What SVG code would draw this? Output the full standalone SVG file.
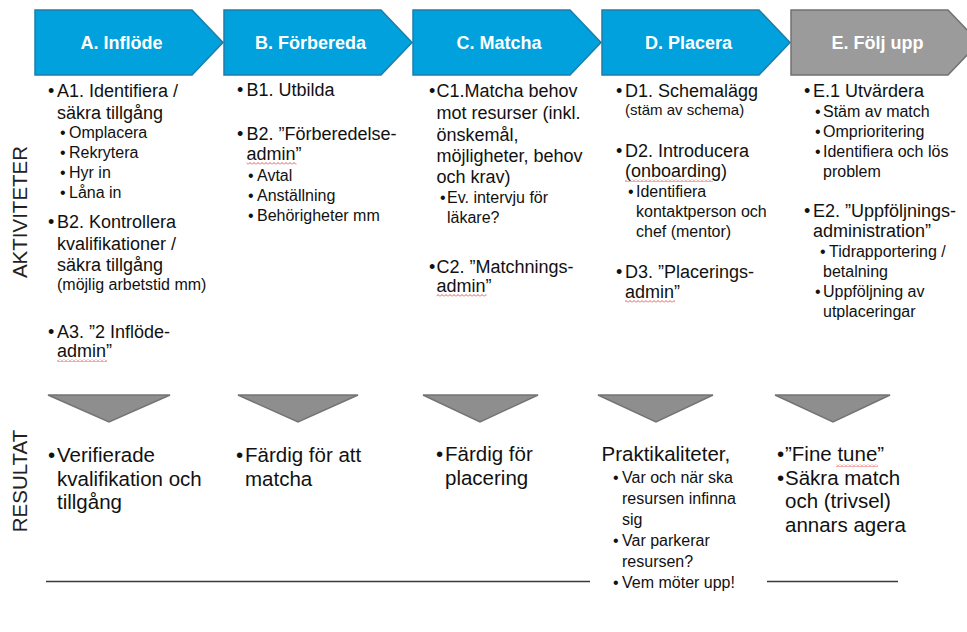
<svg xmlns="http://www.w3.org/2000/svg" width="967" height="632" viewBox="0 0 967 632">
<defs>
<style>
text{font-family:"Liberation Sans",Arial,sans-serif;fill:#111}
.hd{font-size:18px;font-weight:bold;fill:#fff;text-anchor:middle}
.m{font-size:18px}
.s{font-size:16px}
.xs{font-size:15px}
.r{font-size:20.5px}
.lbl{font-size:20.5px;fill:#222;text-anchor:middle}
.chb{fill:#00A1DD;stroke:#1C7EA9;stroke-width:1.5}
.chg{fill:#9B9B9B;stroke:#727272;stroke-width:1.5}
.tri{fill:#8E8E8E;stroke:#747474;stroke-width:1.5}
.ln{stroke:#3a3a3a;stroke-width:1.5}
</style>
<pattern id="sq" width="4" height="3" patternUnits="userSpaceOnUse">
<path d="M0,2.5 L2,0.5 L4,2.5" fill="none" stroke="#E03030" stroke-width="0.8"/>
</pattern>
</defs>
<rect width="967" height="632" fill="#fff"/>

<text class="lbl" transform="translate(27,212) rotate(-90)">AKTIVITETER</text>
<text class="lbl" transform="translate(27,481) rotate(-90)">RESULTAT</text>

<g id="step-a">
<polygon class="chb" points="35,10 192,10 223,42.5 192,75 35,75"/>
<text class="hd" x="121.5" y="49">A. Inflöde</text>
</g>
<g id="step-b">
<polygon class="chb" points="224,10 381,10 412,42.5 381,75 224,75"/>
<text class="hd" x="310.5" y="49">B. Förbereda</text>
</g>
<g id="step-c">
<polygon class="chb" points="413,10 570,10 601,42.5 570,75 413,75"/>
<text class="hd" x="499" y="49">C. Matcha</text>
</g>
<g id="step-d">
<polygon class="chb" points="602,10 759,10 790,42.5 759,75 602,75"/>
<text class="hd" x="688.5" y="49">D. Placera</text>
</g>
<g id="step-e">
<polygon class="chg" points="791,10 948,10 979,42.5 948,75 791,75"/>
<text class="hd" x="877.5" y="49">E. Följ upp</text>
</g>

<g id="act-a">
<text class="m" x="48" y="97">•</text>
<text class="m" x="57" y="97">A1. Identifiera /</text>
<text class="m" x="57" y="119">säkra tillgång</text>
<text class="s" x="60" y="138">•</text><text class="s" x="69" y="138">Omplacera</text>
<text class="s" x="60" y="158">•</text><text class="s" x="69" y="158">Rekrytera</text>
<text class="s" x="60" y="178">•</text><text class="s" x="69" y="178">Hyr in</text>
<text class="s" x="60" y="198">•</text><text class="s" x="69" y="198">Låna in</text>
<text class="m" x="48" y="228">•</text>
<text class="m" x="57" y="228">B2. Kontrollera</text>
<text class="m" x="57" y="250">kvalifikationer /</text>
<text class="m" x="57" y="271">säkra tillgång</text>
<text class="s" x="57" y="290">(möjlig arbetstid mm)</text>
<text class="m" x="48" y="338">•</text>
<text class="m" x="57" y="338">A3. ”2 Inflöde-</text>
<text class="m" x="57" y="357">admin”</text>
<rect x="57" y="359" width="50" height="3" fill="url(#sq)"/>
</g>

<g id="act-b">
<text class="m" x="237" y="96">•</text>
<text class="m" x="246.5" y="96">B1. Utbilda</text>
<text class="m" x="237" y="140">•</text>
<text class="m" x="246.5" y="140">B2. ”Förberedelse-</text>
<text class="m" x="246.5" y="160">admin”</text>
<rect x="246.5" y="162" width="50" height="3" fill="url(#sq)"/>
<text class="s" x="248" y="181">•</text><text class="s" x="257" y="181">Avtal</text>
<text class="s" x="248" y="201">•</text><text class="s" x="257" y="201">Anställning</text>
<text class="s" x="248" y="221">•</text><text class="s" x="257" y="221">Behörigheter mm</text>
</g>

<g id="act-c">
<text class="m" x="429" y="97">•</text>
<text class="m" x="436.5" y="97">C1.Matcha behov</text>
<text class="m" x="436.5" y="119">mot resurser (inkl.</text>
<text class="m" x="436.5" y="141">önskemål,</text>
<text class="m" x="436.5" y="162">möjligheter, behov</text>
<text class="m" x="436.5" y="183">och krav)</text>
<text class="s" x="440" y="203">•</text><text class="s" x="447" y="203">Ev. intervju för</text>
<text class="s" x="447" y="223">läkare?</text>
<text class="m" x="429" y="273">•</text>
<text class="m" x="436.5" y="273">C2. ”Matchnings-</text>
<text class="m" x="436.5" y="292">admin”</text>
<rect x="436.5" y="294" width="50" height="3" fill="url(#sq)"/>
</g>

<g id="act-d">
<text class="m" x="616" y="97">•</text>
<text class="m" x="625" y="97">D1. Schemalägg</text>
<text class="xs" x="625" y="115">(stäm av schema)</text>
<text class="m" x="616" y="157">•</text>
<text class="m" x="625" y="157">D2. Introducera</text>
<text class="m" x="625" y="177">(onboarding)</text>
<rect x="625" y="179" width="88" height="3" fill="url(#sq)"/>
<text class="s" x="628" y="197">•</text><text class="s" x="636" y="197">Identifiera</text>
<text class="s" x="636" y="217">kontaktperson och</text>
<text class="s" x="636" y="237">chef (mentor)</text>
<text class="m" x="616" y="278">•</text>
<text class="m" x="625" y="278">D3. ”Placerings-</text>
<text class="m" x="625" y="298">admin”</text>
<rect x="625" y="300" width="50" height="3" fill="url(#sq)"/>
</g>

<g id="act-e">
<text class="m" x="804" y="97">•</text>
<text class="m" x="813" y="97">E.1 Utvärdera</text>
<text class="s" x="815" y="117">•</text><text class="s" x="823" y="117">Stäm av match</text>
<text class="s" x="815" y="137">•</text><text class="s" x="823" y="137">Omprioritering</text>
<text class="s" x="815" y="157">•</text><text class="s" x="823" y="157">Identifiera och lös</text>
<text class="s" x="823" y="177">problem</text>
<text class="m" x="804" y="217">•</text>
<text class="m" x="813" y="217">E2. ”Uppföljnings-</text>
<text class="m" x="813" y="237">administration”</text>
<text class="s" x="820" y="257">•</text><text class="s" x="829" y="257">Tidrapportering /</text>
<text class="s" x="823" y="277">betalning</text>
<text class="s" x="815" y="297">•</text><text class="s" x="823" y="297">Uppföljning av</text>
<text class="s" x="823" y="317">utplaceringar</text>
</g>

<g id="connectors">
<polygon class="tri" points="48,395 170,395 109,422"/>
<polygon class="tri" points="238,395 358,395 298,422"/>
<polygon class="tri" points="423,395 538,395 480,422"/>
<polygon class="tri" points="598,395 713,395 656,422"/>
<polygon class="tri" points="775,395 890,395 833,422"/>
<line class="ln" x1="46" y1="581.5" x2="590" y2="581.5"/>
<line class="ln" x1="767" y1="581.5" x2="898" y2="581.5"/>
</g>

<g id="res-a">
<text class="r" x="48" y="462">•</text>
<text class="r" x="57" y="462">Verifierade</text>
<text class="r" x="57" y="486">kvalifikation och</text>
<text class="r" x="57" y="509">tillgång</text>
</g>
<g id="res-b">
<text class="r" x="236" y="462">•</text>
<text class="r" x="245" y="462">Färdig för att</text>
<text class="r" x="245" y="486">matcha</text>
</g>
<g id="res-c">
<text class="r" x="436" y="461">•</text>
<text class="r" x="445" y="461">Färdig för</text>
<text class="r" x="445" y="485">placering</text>
</g>
<g id="res-d">
<text class="r" x="601.5" y="461">Praktikaliteter,</text>
<text class="s" x="613" y="483">•</text><text class="s" x="622" y="483">Var och när ska</text>
<text class="s" x="622" y="504">resursen infinna</text>
<text class="s" x="622" y="525">sig</text>
<text class="s" x="613" y="546">•</text><text class="s" x="622" y="546">Var parkerar</text>
<text class="s" x="622" y="567">resursen?</text>
<text class="s" x="613" y="588">•</text><text class="s" x="622" y="588">Vem möter upp!</text>
</g>
<g id="res-e">
<text class="r" x="777" y="461">•</text>
<text class="r" x="785" y="461">”Fine tune”</text>
<rect x="836" y="464" width="42" height="3" fill="url(#sq)"/>
<text class="r" x="777" y="485">•</text>
<text class="r" x="785" y="485">Säkra match</text>
<text class="r" x="785" y="508">och (trivsel)</text>
<text class="r" x="785" y="532">annars agera</text>
</g>
</svg>
